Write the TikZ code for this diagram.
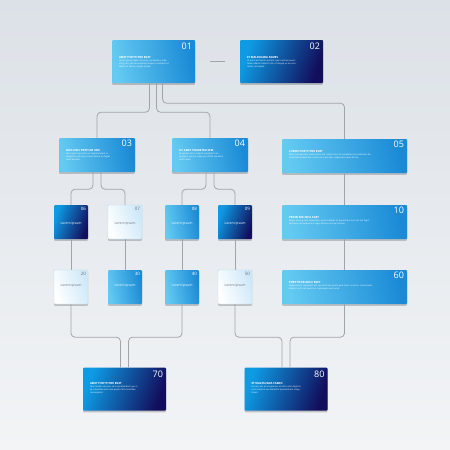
\documentclass[tikz,border=0pt]{standalone}
\usepackage{fontspec}
\setmainfont{Open Sans}
\usetikzlibrary{calc,shadows}

\definecolor{bgtop}{RGB}{220,225,231}
\definecolor{bgbot}{RGB}{242,244,246}
\definecolor{lightblue}{RGB}{100,202,242}
\definecolor{midblue}{RGB}{26,138,214}
\definecolor{cyanblue}{RGB}{14,155,228}
\definecolor{navyblue}{RGB}{18,14,92}
\definecolor{iceblue}{RGB}{205,232,248}
\definecolor{paleblue}{RGB}{185,222,242}
\definecolor{linkgray}{RGB}{160,165,172}
\definecolor{numgray}{RGB}{110,115,125}

\newcommand{\boxttl}[1]{{\bfseries\fontsize{2.8}{3.6}\selectfont #1}}

\tikzset{
  box/.style={rectangle, rounded corners=1pt, inner sep=0pt,
    drop shadow={shadow xshift=0pt, shadow yshift=-1.8pt, opacity=.35, fill=black!60}},
  bluebox/.style={box, left color=lightblue, right color=midblue, shading angle=100},
  darkbox/.style={box, left color=cyanblue, right color=navyblue, shading angle=70},
  whitebox/.style={box, draw=paleblue, line width=0.4pt, left color=white, right color=iceblue, shading angle=110},
  bigbox/.style={minimum width=83pt, minimum height=43pt},
  midbox/.style={minimum width=76pt, minimum height=34pt},
  longbox/.style={minimum width=125pt, minimum height=34pt},
  smallbox/.style={minimum width=34pt, minimum height=34pt},
  txt/.style={anchor=north west, align=left, inner sep=0pt, text=white,
    font=\fontsize{2.2}{3}\selectfont},
  num/.style={anchor=north east, inner sep=0pt, text=white, font=\fontsize{9}{9}\selectfont},
  smallnum/.style={anchor=north east, inner sep=0pt, text=white, font=\fontsize{4.5}{4.5}\selectfont},
  lorem/.style={inner sep=0pt, text=white, font=\fontsize{3.4}{3.4}\selectfont},
  link/.style={draw=linkgray, line width=0.8pt, rounded corners=4pt},
}

\begin{document}
\begin{tikzpicture}[x=1pt, y=-1pt]
    % latar belakang
    \useasboundingbox (0,0) rectangle (450,450);
    \fill[top color=bgtop, middle color=white, bottom color=bgbot] (0,0) rectangle (450,450);

    % kotak-kotak atas
    \node[bluebox, bigbox] (b01) at (153.5,61.5) {};
    \node[darkbox, bigbox] (b02) at (281.5,61.5) {};
    % kotak-kotak baris kedua
    \node[bluebox, midbox] (b03) at (97,155) {};
    \node[bluebox, midbox] (b04) at (210,155) {};
    \node[bluebox, longbox] (b05) at (344.5,156) {};
    % kotak-kotak kecil
    \node[darkbox, smallbox] (b06) at (71,222) {};
    \node[whitebox, smallbox] (b07) at (125,222) {};
    \node[bluebox, smallbox] (b08) at (182,222) {};
    \node[darkbox, smallbox] (b09) at (235,222) {};
    \node[bluebox, longbox] (b10) at (344.5,222) {};
    \node[whitebox, smallbox] (b20) at (71,287) {};
    \node[bluebox, smallbox] (b30) at (125,287) {};
    \node[bluebox, smallbox] (b40) at (182,287) {};
    \node[whitebox, smallbox] (b50) at (235,287) {};
    \node[bluebox, longbox] (b60) at (344.5,287) {};
    % kotak-kotak bawah
    \node[darkbox, bigbox] (b70) at (124.5,389) {};
    \node[darkbox, bigbox] (b80) at (286,389) {};

    % nomor
    \node[num] (n01) at ($(b01.north east)+(-3,3)$) {01};
    \node[num] (n02) at ($(b02.north east)+(-3,3)$) {02};
    \node[num] (n03) at ($(b03.north east)+(-3,2)$) {03};
    \node[num] (n04) at ($(b04.north east)+(-3,2)$) {04};
    \node[num] (n05) at ($(b05.north east)+(-3,2)$) {05};
    \node[num] (n10) at ($(b10.north east)+(-3,2)$) {10};
    \node[num] (n60) at ($(b60.north east)+(-3,2)$) {60};
    \node[num] (n70) at ($(b70.north east)+(-3,3)$) {70};
    \node[num] (n80) at ($(b80.north east)+(-3,3)$) {80};
    \node[smallnum] (n06) at ($(b06.north east)+(-2,2)$) {06};
    \node[smallnum, text=numgray] (n07) at ($(b07.north east)+(-2,2)$) {07};
    \node[smallnum] (n08) at ($(b08.north east)+(-2,2)$) {08};
    \node[smallnum] (n09) at ($(b09.north east)+(-2,2)$) {09};
    \node[smallnum, text=numgray] (n20) at ($(b20.north east)+(-2,2)$) {20};
    \node[smallnum] (n30) at ($(b30.north east)+(-2,2)$) {30};
    \node[smallnum] (n40) at ($(b40.north east)+(-2,2)$) {40};
    \node[smallnum, text=numgray] (n50) at ($(b50.north east)+(-2,2)$) {50};

    % teks di kotak besar
    \node[txt, text width=50pt] (t01) at ($(b01.north west)+(7,16)$)
        {\boxttl{AMET PORTTITOR EGET}\\ Lorem ipsum dolor sit amet, consectetur adipiscing elit, sed do eiusmod tempor incididunt ut labore et dolore magna aliqua.};
    \node[txt, text width=50pt] (t02) at ($(b02.north west)+(7,16)$)
        {\boxttl{ET MALESUADA FAMES}\\ Ut enim ad minim veniam, quis nostrud exercitation ullamco laboris nisi ut aliquip ex ea commodo consequat.};
    \node[txt, text width=46pt] (t03) at ($(b03.north west)+(7,11)$)
        {\boxttl{DUIS ORCI PRETIUM SEM}\\ Duis aute irure dolor in reprehenderit in voluptate velit esse cillum dolore eu fugiat nulla pariatur.};
    \node[txt, text width=46pt] (t04) at ($(b04.north west)+(7,11)$)
        {\boxttl{SIT AMET PHARETRA SEM}\\ Excepteur sint occaecat cupidatat non proident, sunt in culpa qui officia deserunt mollit anim.};
    \node[txt, text width=84pt] (t05) at ($(b05.north west)+(7,11)$)
        {\boxttl{LOREM PORTTITOR EGET}\\ Sed ut perspiciatis unde omnis iste natus error sit voluptatem accusantium doloremque laudantium, totam rem aperiam, eaque ipsa quae ab illo.};
    \node[txt, text width=84pt] (t10) at ($(b10.north west)+(7,11)$)
        {\boxttl{PROIN NISI NISL EGET}\\ Nemo enim ipsam voluptatem quia voluptas sit aspernatur aut odit aut fugit, sed quia consequuntur magni dolores eos qui ratione.};
    \node[txt, text width=84pt] (t60) at ($(b60.north west)+(7,11)$)
        {\boxttl{PORTTITOR ARCU EGET}\\ Neque porro quisquam est, qui dolorem ipsum quia dolor sit amet, consectetur, adipisci velit, sed quia non numquam eius modi.};
    \node[txt, text width=50pt] (t70) at ($(b70.north west)+(7,15)$)
        {\boxttl{AMET PORTTITOR EGET}\\ Quis autem vel eum iure reprehenderit qui in ea voluptate velit esse quam nihil molestiae consequatur.};
    \node[txt, text width=50pt] (t80) at ($(b80.north west)+(7,15)$)
        {\boxttl{ET MALESUADA FAMES}\\ At vero eos et accusamus et iusto odio dignissimos ducimus qui blanditiis praesentium voluptatum.};

    % teks di kotak kecil
    \node[lorem] (l06) at ($(b06.center)+(0,2)$) {Lorem ipsum};
    \node[lorem, text=numgray] (l07) at ($(b07.center)+(0,2)$) {Lorem ipsum};
    \node[lorem] (l08) at ($(b08.center)+(0,2)$) {Lorem ipsum};
    \node[lorem] (l09) at ($(b09.center)+(0,2)$) {Lorem ipsum};
    \node[lorem, text=numgray] (l20) at ($(b20.center)+(0,-1)$) {Lorem ipsum};
    \node[lorem] (l30) at ($(b30.center)+(0,-1)$) {Lorem ipsum};
    \node[lorem] (l40) at ($(b40.center)+(0,-1)$) {Lorem ipsum};
    \node[lorem, text=numgray] (l50) at ($(b50.center)+(0,-1)$) {Lorem ipsum};

    % garis penghubung
    \draw[link] ($(b01.east)+(15,0)$) -- ($(b02.west)+(-15,0)$);
    \draw[link] ($(b01.south)+(-4,0)$) -- ++(0,29) -| (b03.north);
    \draw[link] ($(b01.south)+(3,0)$) -- ++(0,29) -| (b04.north);
    \draw[link] ($(b01.south)+(9,0)$) -- ++(0,20) -| (b05.north);
    \draw[link] ($(b03.south)+(-4,0)$) -- ++(0,17) -| (b06.north);
    \draw[link] ($(b03.south)+(4,0)$) -- ++(0,17) -| (b07.north);
    \draw[link] ($(b04.south)+(-4,0)$) -- ++(0,17) -| (b08.north);
    \draw[link] ($(b04.south)+(4,0)$) -- ++(0,17) -| (b09.north);
    \draw[link] (b06) -- (b20);
    \draw[link] (b07) -- (b30);
    \draw[link] (b08) -- (b40);
    \draw[link] (b09) -- (b50);
    \draw[link] (b05) -- (b10);
    \draw[link] (b10) -- (b60);
    \draw[link] (b20.south) -- ++(0,33) -| ($(b70.north)+(-4,0)$);
    \draw[link] (b40.south) -- ++(0,33) -| ($(b70.north)+(4,0)$);
    \draw[link] (b50.south) -- ++(0,33) -| ($(b80.north)+(-4,0)$);
    \draw[link] (b60.south) -- ++(0,33) -| ($(b80.north)+(4,0)$);
\end{tikzpicture}
\end{document}
